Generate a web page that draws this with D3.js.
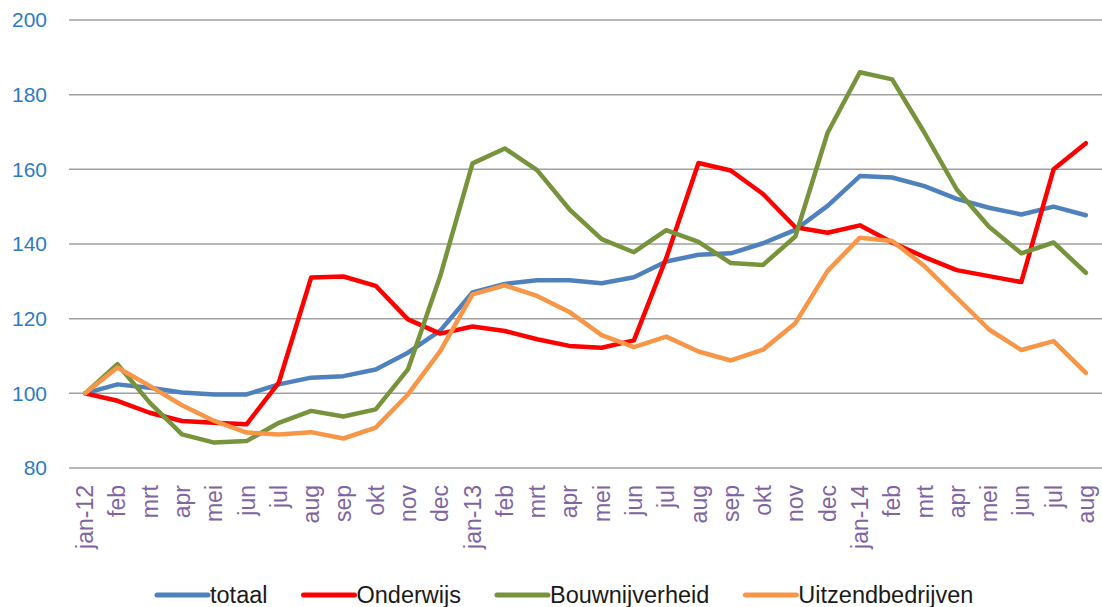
<!DOCTYPE html>
<html>
<head>
<meta charset="utf-8">
<script src="https://cdn.jsdelivr.net/npm/d3@7"></script>
<style>
  body { margin: 0; background: #fff; }
  svg { display: block; font-family: "Liberation Sans", Arial, sans-serif; }
</style>
</head>
<body>
<svg id="svg" width="1102" height="607"></svg>
<script>
// month labels on the category axis
const months = ['jan-12', 'feb', 'mrt', 'apr', 'mei', 'jun', 'jul', 'aug', 'sep', 'okt', 'nov', 'dec',
    'jan-13', 'feb', 'mrt', 'apr', 'mei', 'jun', 'jul', 'aug', 'sep', 'okt', 'nov', 'dec',
    'jan-14', 'feb', 'mrt', 'apr', 'mei', 'jun', 'jul', 'aug'];

const totaal = [100, 102.4, 101.5, 100.2, 99.7, 99.7, 102.4, 104.2, 104.6, 106.4, 110.9, 116.8,
    127, 129.3, 130.3, 130.3, 129.5, 131.1, 135.3, 137.1, 137.5, 140.2, 143.8, 150.2,
    158.2, 157.8, 155.5, 152.1, 149.7, 147.9, 150, 147.7];
const onderwijs = [100, 98, 94.8, 92.6, 92.1, 91.7, 102.9, 131, 131.3, 128.8, 119.8, 116,
    117.9, 116.7, 114.5, 112.7, 112.2, 114.2, 136.2, 161.7, 159.7, 153.4, 144.5, 143,
    145, 140.4, 136.5, 133, 131.4, 129.8, 160, 167];
const bouw = [100, 107.8, 97.5, 89, 86.8, 87.2, 92.1, 95.3, 93.8, 95.7, 106.4, 131.4,
    161.6, 165.6, 159.8, 149.3, 141.3, 137.8, 143.7, 140.6, 134.9, 134.4, 142, 169.8,
    186, 184.1, 169.8, 154.6, 144.6, 137.5, 140.4, 132.3];
const uitzend = [100, 106.9, 102, 96.8, 92.6, 89.5, 89, 89.6, 87.9, 90.8, 99.7, 111.3,
    126.5, 128.9, 126.1, 121.8, 115.6, 112.4, 115.2, 111.2, 108.8, 111.7, 118.8, 132.8,
    141.7, 140.8, 134.1, 125.6, 117.1, 111.6, 114, 105.5];

const seriesNames = ['totaal', 'Onderwijs', 'Bouwnijverheid', 'Uitzendbedrijven'];
const seriesColors = ['#4F81BD', '#FF0000', '#77933C', '#F79646'];
const yTicks = [80, 100, 120, 140, 160, 180, 200];

const series = [totaal, onderwijs, bouw, uitzend];

const svg = d3.select('#svg');
const plotLeft = 69, plotRight = 1102, plotTop = 20, plotBottom = 468;

// categories are indexed so the repeated month names stay apart
const x = d3.scaleBand()
    .domain(d3.range(months.length))
    .range([plotLeft, plotRight]);
const y = d3.scaleLinear()
    .domain([80, 200])
    .range([plotBottom, plotTop]);

// gridlines
svg.append('g')
    .selectAll('line')
    .data(yTicks)
    .join('line')
    .attr('x1', plotLeft)
    .attr('x2', plotRight)
    .attr('y1', d => y(d))
    .attr('y2', d => y(d))
    .attr('stroke', '#A0A0A0')
    .attr('stroke-width', 1.5);

// y axis labels
const yAxis = svg.append('g')
    .attr('transform', `translate(${plotLeft},0)`)
    .call(d3.axisLeft(y).tickValues(yTicks).tickSize(0).tickPadding(22));
yAxis.select('.domain').remove();
yAxis.selectAll('text')
    .attr('fill', '#2E7BC4')
    .style('font-size', '21px')
    .style('font-family', '"Liberation Sans", Arial, sans-serif');

// x axis labels, rotated
const xAxis = svg.append('g')
    .attr('transform', `translate(0,${plotBottom})`)
    .call(d3.axisBottom(x).tickFormat(i => months[i]).tickSize(0));
xAxis.select('.domain').remove();
xAxis.selectAll('text')
    .attr('fill', '#8064A2')
    .style('font-size', '23px')
    .style('font-family', '"Liberation Sans", Arial, sans-serif')
    .attr('text-anchor', 'end')
    .attr('transform', 'rotate(-90)')
    .attr('x', -17)
    .attr('y', 0)
    .attr('dy', '0.35em');

// lines
const line = d3.line()
    .x((d, i) => x(i) + x.bandwidth() / 2)
    .y(d => y(d));

svg.append('g')
    .selectAll('path')
    .data(series)
    .join('path')
    .attr('d', d => line(d))
    .attr('fill', 'none')
    .attr('stroke', (d, i) => seriesColors[i])
    .attr('stroke-width', 4.5)
    .attr('stroke-linejoin', 'round')
    .attr('stroke-linecap', 'round');

// legend
const legend = svg.append('g');
let lx = 157;
const ly = 595;
seriesNames.forEach((name, i) => {
    legend.append('line')
        .attr('x1', lx)
        .attr('x2', lx + 51)
        .attr('y1', ly)
        .attr('y2', ly)
        .attr('stroke', seriesColors[i])
        .attr('stroke-width', 5)
        .attr('stroke-linecap', 'round');
    const t = legend.append('text')
        .attr('x', lx + 53)
        .attr('y', ly)
        .attr('dy', '0.35em')
        .attr('fill', '#1a1a1a')
        .style('font-size', '23.5px')
        .text(name);
    lx += 53 + t.node().getComputedTextLength() + 36;
});
</script>
</body>
</html>
